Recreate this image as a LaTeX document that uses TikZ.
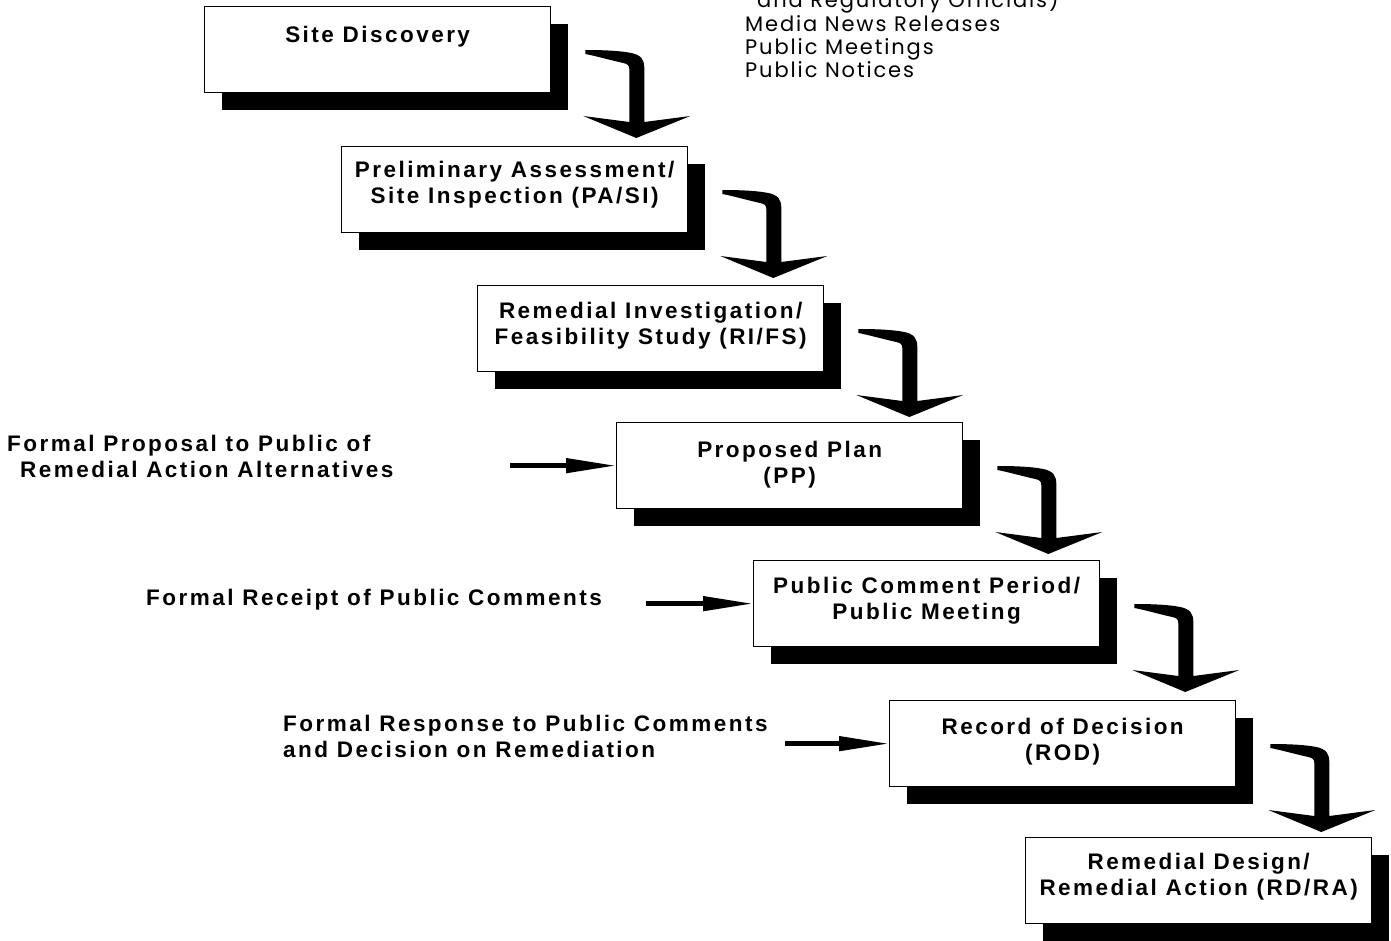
\documentclass[tikz,border=0pt]{standalone}
\usepackage{fontspec}
\setmainfont{Liberation Sans}
\newfontfamily\bfont{Liberation Sans}[LetterSpace=11]
\newfontfamily\gfont{Poppins}[LetterSpace=9]
\usetikzlibrary{shadows,arrows.meta}
\begin{document}
\begin{tikzpicture}[x=1pt,y=-1pt,
  box/.style={draw, line width=1.3pt, fill=white, minimum width=346pt, minimum height=86pt,
    anchor=north west, inner sep=0pt,
    general shadow={fill=black, shadow xshift=17pt, shadow yshift=-17pt}},
  btxt/.style={font=\bfont\bfseries\fontsize{22.5}{26}\selectfont, align=center, inner sep=0pt, anchor=north},
  side/.style={font=\bfont\bfseries\fontsize{22.5}{26}\selectfont, align=left, inner sep=0pt, anchor=north west},
  gtxt/.style={font=\gfont\fontsize{21}{23}\selectfont, inner sep=0pt, anchor=base west},
  inarrow/.style={line width=4.5pt, -{Triangle[length=50pt,width=14pt]}},
  bent/.pic={
    \fill (34,44) .. controls (55,44) and (70,45) .. (80,47)
      .. controls (90,49) and (93,54) .. (93,62) -- (93,116) -- (139,110) -- (85,132)
      -- (32,110) -- (78,116) -- (78,63) .. controls (78,59) and (76,58) .. (72,57)
      .. controls (58,54) and (45,50) .. (34,48) -- cycle;
  }
]
\useasboundingbox (0,0) rectangle (1391,941);
\clip (0,0) rectangle (1391,941);

% top-right list
\node[gtxt] (m0) at (757,8) {and Regulatory Officials)};
\node[gtxt] (m1) at (745,32) {Media News Releases};
\node[gtxt] (m2) at (745,55) {Public Meetings};
\node[gtxt] (m3) at (745,78) {Public Notices};

% process boxes
\node[box, label={[btxt, yshift=-20pt]north:{Site Discovery}}] (b1) at (204,6) {};
\node[box, label={[btxt, yshift=-15pt]north:{Preliminary Assessment/\\Site Inspection (PA/SI)}}] (b2) at (341,146) {};
\node[box, label={[btxt, yshift=-17pt]north:{Remedial Investigation/\\Feasibility Study (RI/FS)}}] (b3) at (477,285) {};
\node[box, label={[btxt, yshift=-19pt]north:{Proposed Plan\\(PP)}}] (b4) at (616,422) {};
\node[box, label={[btxt, yshift=-17pt]north:{Public Comment Period/\\Public Meeting}}] (b5) at (753,560) {};
\node[box, label={[btxt, yshift=-18pt]north:{Record of Decision\\(ROD)}}] (b6) at (889,700) {};
\node[box, label={[btxt, yshift=-16pt]north:{Remedial Design/\\Remedial Action (RD/RA)}}] (b7) at (1025,837) {};

% bent connectors between boxes
\path (b1.north east) pic {bent};
\path (b2.north east) pic {bent};
\path (b3.north east) pic {bent};
\path (b4.north east) pic {bent};
\path (b5.north east) pic {bent};
\path (b6.north east) pic {bent};

% side inputs
\node[side] (t4) at (7,435) {Formal Proposal to Public of\\\hspace*{13pt}Remedial Action Alternatives};
\node[side] (t5) at (146,589) {Formal Receipt of Public Comments};
\node[side] (t6) at (283,715) {Formal Response to Public Comments\\and Decision on Remediation};

\coordinate (s4) at (510,0 |- b4.west);
\coordinate (s5) at (646,0 |- b5.west);
\coordinate (s6) at (785,0 |- b6.west);
\draw[inarrow] (s4) -- (b4.west);
\draw[inarrow] (s5) -- (b5.west);
\draw[inarrow] (s6) -- (b6.west);
\end{tikzpicture}
\end{document}
